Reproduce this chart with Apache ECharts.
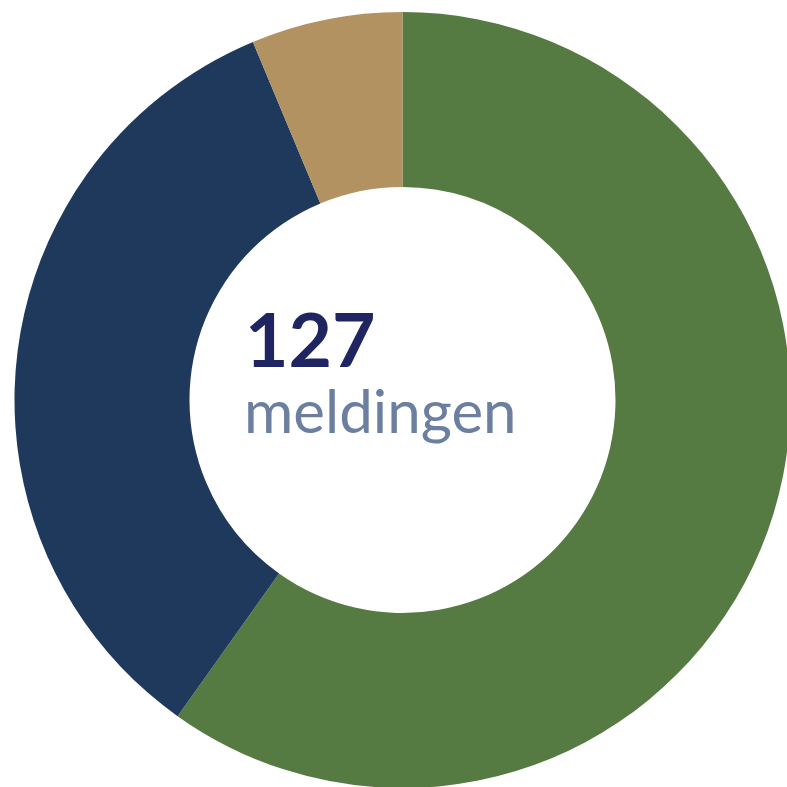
<!DOCTYPE html>
<html><head><meta charset="utf-8">
<script src="https://cdn.jsdelivr.net/npm/echarts@6/dist/echarts.min.js"></script>
<style>html,body{margin:0;padding:0;background:#fff}#c{width:787px;height:787px}</style>
</head><body><div id="c"></div>
<script>
const categories = ['A', 'B', 'C'];
const values = [76, 43, 8];
const colors = ['#557A42', '#1E395C', '#B39261'];
const total = 127;
const totalLabel = 'meldingen';

const chart = echarts.init(document.getElementById('c'), null, {renderer: 'canvas'});
chart.setOption({
  animation: false,
  series: [{
    type: 'pie',
    center: [402.5, 400],
    radius: [213, 388],
    startAngle: 90,
    clockwise: true,
    label: {show: false},
    labelLine: {show: false},
    silent: true,
    itemStyle: {borderWidth: 0},
    data: categories.map((c, i) => ({name: c, value: values[i], itemStyle: {color: colors[i]}}))
  }],
  graphic: [
    {type: 'text', left: 245, top: 305, style: {text: String(total), font: 'bold 75px Lato', fill: '#1F2560'}},
    {type: 'text', left: 244, top: 384, style: {text: totalLabel, font: '60px Lato', fill: '#6C7FA0'}}
  ]
});
</script></body></html>
